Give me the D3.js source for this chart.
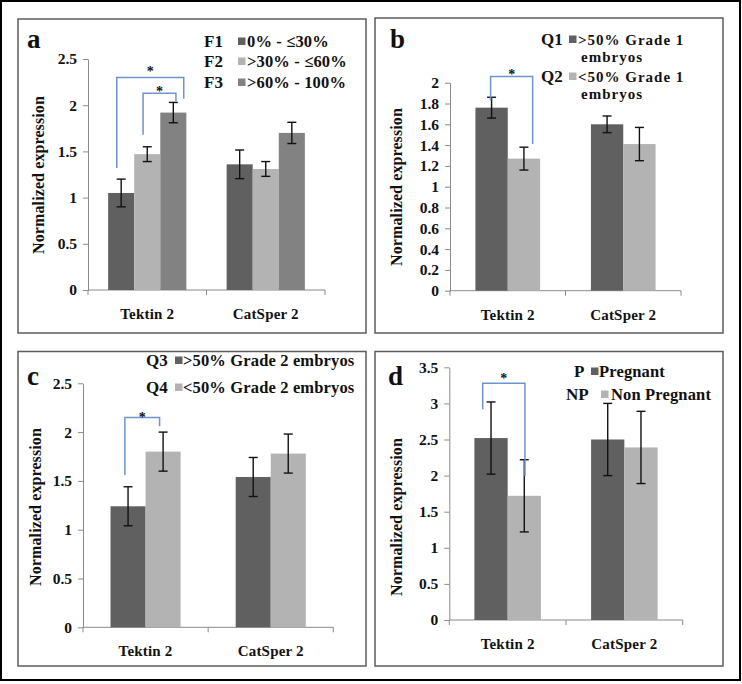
<!DOCTYPE html>
<html>
<head>
<meta charset="utf-8">
<script src="https://cdn.jsdelivr.net/npm/d3@7"></script>
<style>
  html, body { margin: 0; padding: 0; background: #fff; }
</style>
</head>
<body>
<svg id="chart" width="742" height="684"></svg>
<script>
// ---------------- DATA ----------------
const categories = ["Tektin 2", "CatSper 2"];

// Panel a
const seriesA = ["F1", "F2", "F3"];
const legendA = ["0% - ≤30%", ">30% - ≤60%", ">60% - 100%"];
const valuesA = [[1.05, 1.36], [1.47, 1.31], [1.92, 1.70]];
const errorsA = [[0.15, 0.155], [0.08, 0.08], [0.11, 0.115]];
const ticksA = [0, 0.5, 1, 1.5, 2, 2.5];

// Panel b
const seriesB = ["Q1", "Q2"];
const legendB = [[">50% Grade 1", "embryos"], ["<50% Grade 1", "embryos"]];
const valuesB = [[1.76, 1.60], [1.27, 1.41]];
const errorsB = [[0.10, 0.08], [0.11, 0.16]];
const ticksB = [0, 0.2, 0.4, 0.6, 0.8, 1, 1.2, 1.4, 1.6, 1.8, 2];

// Panel c
const seriesC = ["Q3", "Q4"];
const legendC = [">50% Grade 2 embryos", "<50% Grade 2 embryos"];
const valuesC = [[1.24, 1.54], [1.80, 1.78]];
const errorsC = [[0.20, 0.20], [0.20, 0.20]];
const ticksC = [0, 0.5, 1, 1.5, 2, 2.5];

// Panel d
const seriesD = ["P", "NP"];
const legendD = ["Pregnant", "Non Pregnant"];
const valuesD = [[2.52, 2.50], [1.72, 2.39]];
const errorsD = [[0.50, 0.50], [0.50, 0.50]];
const ticksD = [0, 0.5, 1, 1.5, 2, 2.5, 3, 3.5];

// significance brackets (bar index + fraction across bar, heights in data units)
const bracketsA = [
  { cat: 0, s1: 0, f1: 0.33, s2: 2, f2: 0.90, left: 1.32, top: 2.30, right: 2.07 },
  { cat: 0, s1: 1, f1: 0.34, s2: 2, f2: 0.60, left: 1.68, top: 2.13, right: 2.04 }
];
const bracketsB = [{ cat: 0, s1: 0, f1: 0.47, s2: 1, f2: 0.77, left: 1.83, top: 2.06, right: 1.41 }];
const bracketsC = [{ cat: 0, s1: 0, f1: 0.41, s2: 1, f2: 0.40, left: 1.56, top: 2.15, right: 2.06 }];
const bracketsD = [{ cat: 0, s1: 0, f1: 0.25, s2: 1, f2: 0.52, left: 2.92, top: 3.28, right: 1.99 }];

// ---------------- STYLE / LAYOUT ----------------
const FONT = '"Liberation Serif", "Times New Roman", serif';
const colors3 = ["#606060", "#b3b3b3", "#828282"];
const colors2 = ["#606060", "#b3b3b3"];
const axisColor = "#8a8a8a";
const bracketColor = "#6e95cb";

const svg = d3.select("#chart");
svg.append("rect").attr("x", 0).attr("y", 0).attr("width", 742).attr("height", 684).attr("fill", "#fff");
svg.append("rect").attr("x", 1).attr("y", 1).attr("width", 739).attr("height", 679)
  .attr("fill", "none").attr("stroke", "#000").attr("stroke-width", 2);

function styleText(sel) {
  return sel.style("font-family", FONT).style("font-weight", "bold").attr("fill", "#111");
}
function txt(g) { return styleText(g.append("text")); }

const panels = [
  { letter: "a", box: [18, 19, 366, 333], letterPos: [27, 48],
    x0: 88, xEnd: 325, y0: 290, yTop: 59, max: 2.5, pad: 0.34,
    series: seriesA, values: valuesA, errors: errorsA, ticks: ticksA, colors: colors3,
    brackets: bracketsA, starGap: [1, -3], ylab: [38, 175] },
  { letter: "b", box: [375, 18, 723, 333], letterPos: [390, 48],
    x0: 450, xEnd: 681, y0: 290.7, yTop: 82.7, max: 2, pad: 0.44,
    series: seriesB, values: valuesB, errors: errorsB, ticks: ticksB, colors: colors2,
    brackets: bracketsB, starGap: [-3], ylab: [396, 187] },
  { letter: "c", box: [18, 351.5, 366, 666], letterPos: [27, 385],
    x0: 83, xEnd: 333.3, y0: 627.3, yTop: 383.3, max: 2.5, pad: 0.44,
    series: seriesC, values: valuesC, errors: errorsC, ticks: ticksC, colors: colors2,
    brackets: bracketsC, starGap: [-5], ylab: [35, 507] },
  { letter: "d", box: [375, 351.5, 723, 666], letterPos: [388, 385],
    x0: 449.3, xEnd: 682.7, y0: 620, yTop: 367.3, max: 3.5, pad: 0.43,
    series: seriesD, values: valuesD, errors: errorsD, ticks: ticksD, colors: colors2,
    brackets: bracketsD, starGap: [0], ylab: [396, 517] }
];

function drawPanel(p) {
  const g = svg.append("g");
  const [bx0, by0, bx1, by1] = p.box;
  g.append("rect").attr("x", bx0).attr("y", by0).attr("width", bx1 - bx0).attr("height", by1 - by0)
    .attr("fill", "none").attr("stroke", "#5c5c5c").attr("stroke-width", 1.5);

  const y = d3.scaleLinear().domain([0, p.max]).range([p.y0, p.yTop]);
  const x = d3.scaleBand().domain(categories).range([p.x0, p.xEnd])
    .paddingInner(p.pad).paddingOuter(p.pad / 2);
  const xs = d3.scaleBand().domain(d3.range(p.series.length)).range([0, x.bandwidth()]);

  // y axis
  const yAxis = d3.axisLeft(y).tickValues(p.ticks).tickSize(5).tickSizeOuter(0).tickPadding(6)
    .tickFormat(d => String(d));
  const ya = g.append("g").attr("transform", `translate(${p.x0},0)`).call(yAxis);
  ya.select(".domain").attr("stroke", axisColor);
  ya.selectAll(".tick line").attr("stroke", axisColor);
  styleText(ya.selectAll(".tick text")).style("font-size", "15.5px");

  // x axis
  g.append("line").attr("x1", p.x0).attr("x2", p.xEnd).attr("y1", p.y0).attr("y2", p.y0)
    .attr("stroke", axisColor);
  const bounds = d3.range(categories.length + 1).map(i => p.x0 + i * x.step());
  g.selectAll(".xt").data(bounds).join("line")
    .attr("x1", d => d).attr("x2", d => d).attr("y1", p.y0).attr("y2", p.y0 + 5)
    .attr("stroke", axisColor);
  styleText(g.selectAll(".xl").data(categories).join("text"))
    .attr("x", d => x(d) + x.bandwidth() / 2).attr("y", p.y0 + 29)
    .attr("text-anchor", "middle").style("font-size", "15px").attr("letter-spacing", 0.2).text(d => d);

  // bars
  p.series.forEach((s, si) => {
    const rows = categories.map((c, ci) => ({ c, v: p.values[si][ci], e: p.errors[si][ci] }));
    g.selectAll(".bar" + si).data(rows).join("rect")
      .attr("x", d => x(d.c) + xs(si)).attr("width", xs.bandwidth())
      .attr("y", d => y(d.v)).attr("height", d => y(0) - y(d.v))
      .attr("fill", p.colors[si]);
    const cx = d => x(d.c) + xs(si) + xs.bandwidth() / 2;
    const eb = g.selectAll(".err" + si).data(rows).join("g").attr("stroke", "#111").attr("stroke-width", 1.4);
    eb.append("line").attr("x1", cx).attr("x2", cx).attr("y1", d => y(d.v + d.e)).attr("y2", d => y(d.v - d.e));
    eb.append("line").attr("x1", d => cx(d) - 4.5).attr("x2", d => cx(d) + 4.5)
      .attr("y1", d => y(d.v + d.e)).attr("y2", d => y(d.v + d.e));
    eb.append("line").attr("x1", d => cx(d) - 4.5).attr("x2", d => cx(d) + 4.5)
      .attr("y1", d => y(d.v - d.e)).attr("y2", d => y(d.v - d.e));
  });

  // brackets
  p.brackets.forEach((b, bi) => {
    const c = categories[b.cat];
    const xl = x(c) + xs(b.s1) + b.f1 * xs.bandwidth();
    const xr = x(c) + xs(b.s2) + b.f2 * xs.bandwidth();
    g.append("path")
      .attr("d", `M${xl},${y(b.left)}V${y(b.top)}H${xr}V${y(b.right)}`)
      .attr("fill", "none").attr("stroke", bracketColor).attr("stroke-width", 1.5);
    txt(g).attr("x", (xl + xr) / 2).attr("y", y(b.top) - p.starGap[bi])
      .attr("text-anchor", "middle").style("font-size", "14px").text("*");
  });

  // panel letter
  txt(g).attr("x", p.letterPos[0]).attr("y", p.letterPos[1]).style("font-size", "27px").text(p.letter);

  // y label
  txt(g).attr("transform", `translate(${p.ylab[0]},${p.ylab[1]}) rotate(-90)`)
    .attr("text-anchor", "middle").attr("dominant-baseline", "central")
    .style("font-size", "16px").attr("letter-spacing", 0.1).text("Normalized expression");
  return g;
}

const gs = panels.map(drawPanel);

// ---------------- LEGENDS ----------------
function legendRow(g, keyX, sqX, labX, base, key, label, color, size, spacing) {
  txt(g).attr("x", keyX).attr("y", base).style("font-size", "17px").text(key);
  g.append("rect").attr("x", sqX).attr("y", base - 9.5).attr("width", 7.5).attr("height", 7.5).attr("fill", color);
  txt(g).attr("x", labX).attr("y", base).style("font-size", size + "px").attr("letter-spacing", spacing).text(label);
}
// a
const baseA = [47, 67, 88];
seriesA.forEach((s, i) => legendRow(gs[0], 204, 238, 247, baseA[i], s, legendA[i], colors3[i], 16.5, 0.15));
// b (two-line labels)
const baseB = [45, 82];
seriesB.forEach((s, i) => {
  legendRow(gs[1], 541, 569, 578, baseB[i], s, legendB[i][0], colors2[i], 15, 1);
  txt(gs[1]).attr("x", 581).attr("y", baseB[i] + 17).style("font-size", "15px")
    .attr("letter-spacing", 1).text(legendB[i][1]);
});
// c
const baseC = [366, 393];
seriesC.forEach((s, i) => legendRow(gs[2], 146, 175, 183, baseC[i], s, legendC[i], colors2[i], 16.5, 0.15));
// d
legendRow(gs[3], 574, 591, 599, 377, seriesD[0], legendD[0], colors2[0], 16.5, 0.15);
legendRow(gs[3], 566, 601, 611, 400, seriesD[1], legendD[1], colors2[1], 16.5, 0.15);
</script>
</body>
</html>
